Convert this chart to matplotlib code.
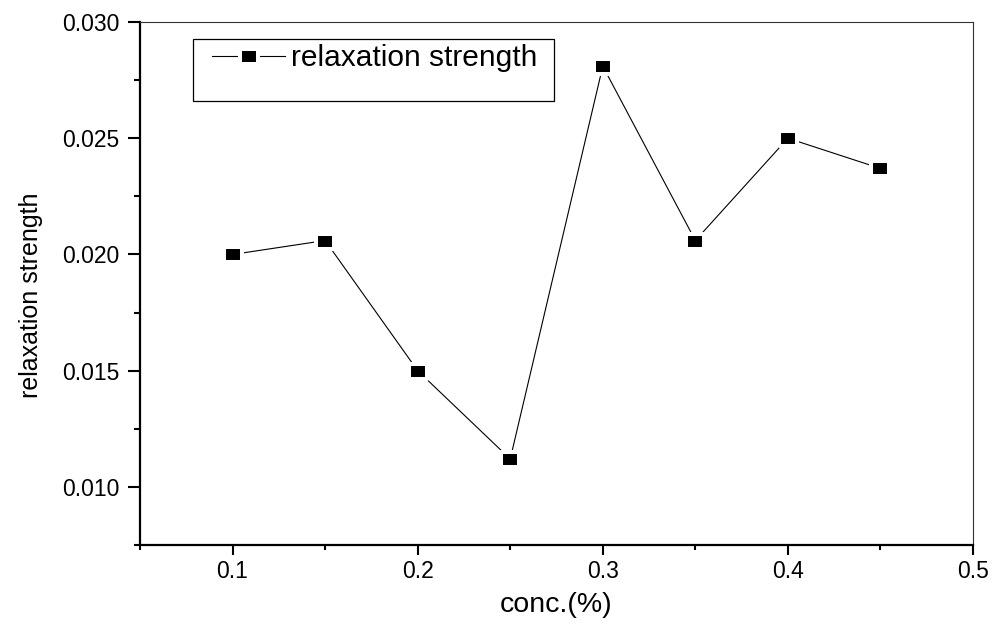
import matplotlib
matplotlib.use('Agg')
import matplotlib.pyplot as plt
from matplotlib.ticker import MultipleLocator, FormatStrFormatter
from matplotlib.patches import Rectangle

plt.rcParams['font.family'] = ['Liberation Sans', 'DejaVu Sans']

# concentration (%) vs. relaxation strength
conc = [0.10, 0.15, 0.20, 0.25, 0.30, 0.35, 0.40, 0.45]
strength = [0.0200, 0.0206, 0.0150, 0.0112, 0.0281, 0.0206, 0.0250, 0.0237]

fig = plt.figure(figsize=(9.95, 6.24), dpi=100)
ax = fig.add_axes([0.1407, 0.1266, 0.8372, 0.8381])

# slightly wide square marker, white rim leaves a gap where the line meets it
box = [(-1.2, -1), (1.2, -1), (1.2, 1), (-1.2, 1), (-1.2, -1)]
line, = ax.plot(conc, strength, color='black', lw=0.8, marker=box,
                markersize=12.96, markerfacecolor='black',
                markeredgecolor='white', markeredgewidth=2.9,
                label='relaxation strength')

ax.set_xlim(0.05, 0.5)
ax.set_ylim(0.0075, 0.030)
ax.xaxis.set_major_locator(MultipleLocator(0.1))
ax.xaxis.set_minor_locator(MultipleLocator(0.05))
ax.yaxis.set_major_locator(MultipleLocator(0.005))
ax.yaxis.set_minor_locator(MultipleLocator(0.0025))
ax.xaxis.set_major_formatter(FormatStrFormatter('%.1f'))
ax.yaxis.set_major_formatter(FormatStrFormatter('%.3f'))

ax.tick_params(which='both', direction='out', width=1.5, top=False, right=False,
               labelsize=16.5)
ax.tick_params(axis='x', which='major', length=7, pad=4)
ax.tick_params(axis='x', which='minor', length=3.5)
ax.tick_params(axis='y', which='major', length=8.5, pad=6)
ax.tick_params(axis='y', which='minor', length=4.5)

for side in ('left', 'bottom'):
    ax.spines[side].set_linewidth(1.6)
for side in ('top', 'right'):
    ax.spines[side].set_linewidth(0.8)
    ax.spines[side].set_color('#333333')

ax.set_xlabel('conc.(%)', fontsize=20.5, labelpad=6)
ax.set_ylabel('relaxation strength', fontsize=18)
ax.yaxis.set_label_coords(-0.117, 0.478)

# legend box with Origin-like empty space under the entry
ax.add_patch(Rectangle((0.0636, 0.849), 0.4334, 0.1185, transform=ax.transAxes,
                       fill=False, edgecolor='black', lw=0.9, zorder=4))
ax.legend(handles=[line], loc='center left', bbox_to_anchor=(0.0864, 0.931),
          frameon=False, fontsize=21.5, borderpad=0, borderaxespad=0,
          handlelength=2.45, handletextpad=0.2)

fig.savefig('out.png', dpi=100)
